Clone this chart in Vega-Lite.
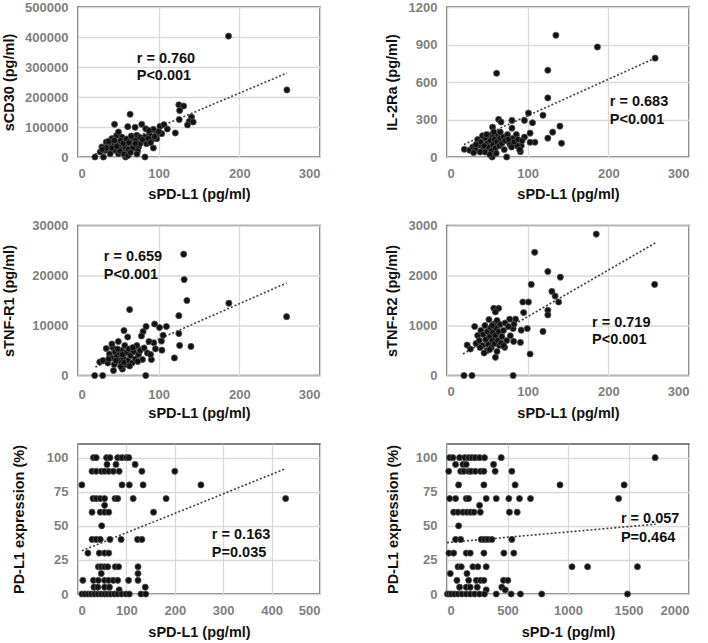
{
  "$schema": "https://vega.github.io/schema/vega-lite/v6.json",
  "padding": {"left": 0, "top": 0, "right": 0, "bottom": 0},
  "background": "white",
  "columns": 2,
  "bounds": "flush",
  "spacing": {"row": 68.5, "column": 127},
  "config": {
    "view": {"stroke": "#595959", "strokeWidth": 1.5},
    "axis": {"grid": true, "gridColor": "#d9d9d9", "gridWidth": 1.3, "domain": false, "ticks": false,
      "labelFont": "Liberation Sans", "labelFontSize": 13, "labelFontWeight": "bold", "labelColor": "#808080",
      "titleFont": "Liberation Sans", "titleFontSize": 14.5, "titleFontWeight": "bold", "titleColor": "#111111"},
    "axisX": {"labelPadding": 10, "minExtent": 23, "maxExtent": 23, "titlePadding": 7.5},
    "axisY": {"labelPadding": 10, "titlePadding": 0}
  },
  "datasets": {
    "p1": [
      {"k":"p","x":186.6,"y":403000},{"k":"p","x":259,"y":223600},{"k":"p","x":125,"y":174000},{"k":"p","x":131,"y":170000},{"k":"p","x":126,"y":155000},{"k":"p","x":125.5,"y":125000},{"k":"p","x":140.7,"y":133000},{"k":"p","x":138,"y":119000},{"k":"p","x":142.8,"y":116700},{"k":"p","x":135.8,"y":107000},{"k":"p","x":120.6,"y":80000},{"k":"p","x":64.6,"y":142500},{"k":"p","x":45.3,"y":109000},{"k":"p","x":61.7,"y":101000},{"k":"p","x":70.8,"y":99000},{"k":"p","x":79,"y":109000},{"k":"p","x":84,"y":94000},{"k":"p","x":93.4,"y":92000},{"k":"p","x":101.6,"y":102000},{"k":"p","x":106.6,"y":107700},{"k":"p","x":110.7,"y":93300},{"k":"p","x":97.5,"y":75600},{"k":"p","x":88.5,"y":77800},{"k":"p","x":103.7,"y":77800},{"k":"p","x":97.5,"y":61000},{"k":"p","x":91,"y":57700},{"k":"p","x":83,"y":66700},{"k":"p","x":79,"y":53300},{"k":"p","x":85,"y":44300},{"k":"p","x":93.4,"y":30000},{"k":"p","x":83,"y":0},{"k":"p","x":75,"y":33300},{"k":"p","x":72.8,"y":72300},{"k":"p","x":70.8,"y":55700},{"k":"p","x":64.6,"y":61000},{"k":"p","x":58.4,"y":50000},{"k":"p","x":54.3,"y":66700},{"k":"p","x":48,"y":72300},{"k":"p","x":50.2,"y":83300},{"k":"p","x":42,"y":61000},{"k":"p","x":44,"y":44300},{"k":"p","x":37.9,"y":38900},{"k":"p","x":35,"y":50000},{"k":"p","x":29.6,"y":33300},{"k":"p","x":27.5,"y":16700},{"k":"p","x":21,"y":0},{"k":"p","x":31.6,"y":0},{"k":"p","x":59,"y":0},{"k":"p","x":33.7,"y":22300},{"k":"p","x":39.9,"y":27800},{"k":"p","x":46,"y":22300},{"k":"p","x":52.2,"y":38900},{"k":"p","x":56.4,"y":27800},{"k":"p","x":60.5,"y":16700},{"k":"p","x":66.7,"y":38900},{"k":"p","x":58.4,"y":33300},{"k":"p","x":50.2,"y":11100},{"k":"p","x":39.9,"y":11100},{"k":"p","x":62.6,"y":25600},{"k":"p","x":76.9,"y":44300},{"k":"p","x":38,"y":52000},{"k":"p","x":42,"y":30000},{"k":"p","x":47,"y":50000},{"k":"p","x":53,"y":55000},{"k":"p","x":56,"y":45000},{"k":"p","x":60,"y":60000},{"k":"p","x":63,"y":48000},{"k":"p","x":66,"y":70000},{"k":"p","x":68,"y":30000},{"k":"p","x":71,"y":45000},{"k":"p","x":74,"y":20000},{"k":"p","x":77,"y":65000},{"k":"p","x":80,"y":58000},{"k":"p","x":87,"y":62000},{"k":"p","x":90,"y":48000},{"k":"p","x":95,"y":68000},{"k":"p","x":100,"y":85000},{"k":"p","x":52,"y":20000},{"k":"p","x":57,"y":10000},{"k":"p","x":62,"y":5000},{"k":"p","x":45,"y":55000},{"k":"p","x":35,"y":30000},{"k":"p","x":30,"y":25000},{"k":"p","x":48,"y":35000},{"k":"p","x":65,"y":15000},{"k":"p","x":73,"y":10000},{"k":"p","x":88,"y":88000},
      {"k":"f","x":21,"y":9000},{"k":"f","x":259,"y":280000},
      {"k":"t","x":72.8,"y":326700,"t":"r = 0.760"},{"k":"t","x":72.8,"y":270000,"t":"P<0.001"}
    ],
    "p2": [
      {"k":"p","x":135,"y":974},{"k":"p","x":186.5,"y":880},{"k":"p","x":258,"y":791},{"k":"p","x":61.5,"y":670},{"k":"p","x":125,"y":694},{"k":"p","x":125,"y":473},{"k":"p","x":101,"y":352},{"k":"p","x":96,"y":293},{"k":"p","x":119,"y":334},{"k":"p","x":106,"y":274},{"k":"p","x":64,"y":301},{"k":"p","x":67,"y":280},{"k":"p","x":80.5,"y":293},{"k":"p","x":80.5,"y":231},{"k":"p","x":56.5,"y":239},{"k":"p","x":140,"y":247},{"k":"p","x":131,"y":199},{"k":"p","x":103,"y":191},{"k":"p","x":125,"y":151},{"k":"p","x":142,"y":110},{"k":"p","x":109,"y":118},{"k":"p","x":103,"y":118},{"k":"p","x":96,"y":159},{"k":"p","x":92,"y":91},{"k":"p","x":91,"y":43},{"k":"p","x":85,"y":145},{"k":"p","x":87,"y":91},{"k":"p","x":74,"y":0},{"k":"p","x":56,"y":0},{"k":"p","x":21.5,"y":62},
      {"k":"p","x":28,"y":55},{"k":"p","x":32,"y":80},{"k":"p","x":35,"y":60},{"k":"p","x":38,"y":140},{"k":"p","x":40,"y":95},{"k":"p","x":42,"y":120},{"k":"p","x":44,"y":170},{"k":"p","x":45,"y":60},{"k":"p","x":47,"y":40},{"k":"p","x":48,"y":150},{"k":"p","x":50,"y":110},{"k":"p","x":51,"y":80},{"k":"p","x":52,"y":175},{"k":"p","x":54,"y":130},{"k":"p","x":55,"y":50},{"k":"p","x":57,"y":100},{"k":"p","x":58,"y":170},{"k":"p","x":59,"y":140},{"k":"p","x":60,"y":70},{"k":"p","x":61,"y":30},{"k":"p","x":62,"y":120},{"k":"p","x":63,"y":180},{"k":"p","x":65,"y":90},{"k":"p","x":66,"y":150},{"k":"p","x":68,"y":110},{"k":"p","x":70,"y":160},{"k":"p","x":72,"y":130},{"k":"p","x":75,"y":180},{"k":"p","x":78,"y":100},{"k":"p","x":82,"y":150},{"k":"p","x":83,"y":120},{"k":"p","x":86,"y":180},{"k":"p","x":88,"y":140},{"k":"p","x":90,"y":60},{"k":"p","x":93,"y":130},{"k":"p","x":46,"y":90},{"k":"p","x":53,"y":20},{"k":"p","x":36,"y":100},{"k":"p","x":41,"y":40},{"k":"p","x":58,"y":200},{"k":"p","x":66,"y":200},{"k":"p","x":71,"y":60},{"k":"p","x":76,"y":140},{"k":"p","x":80,"y":80},{"k":"p","x":49,"y":180},{"k":"p","x":33,"y":35},
      {"k":"f","x":21,"y":100},{"k":"f","x":258,"y":791},
      {"k":"t","x":201.8,"y":441,"t":"r = 0.683"},{"k":"t","x":201.8,"y":293,"t":"P<0.001"}
    ],
    "p3": [
      {"k":"p","x":131,"y":24260},{"k":"p","x":131.6,"y":19190},{"k":"p","x":135,"y":15000},{"k":"p","x":187,"y":14460},{"k":"p","x":258.6,"y":11760},{"k":"p","x":64,"y":13180},{"k":"p","x":125,"y":11960},{"k":"p","x":125,"y":8380},{"k":"p","x":126,"y":6010},{"k":"p","x":140,"y":5810},{"k":"p","x":119.5,"y":3510},{"k":"p","x":109.6,"y":9800},{"k":"p","x":95,"y":10300},{"k":"p","x":101,"y":9600},{"k":"p","x":84.4,"y":9800},{"k":"p","x":80.7,"y":8780},{"k":"p","x":78.6,"y":7900},{"k":"p","x":61.6,"y":7700},{"k":"p","x":57,"y":8990},{"k":"p","x":105.5,"y":8040},{"k":"p","x":103.4,"y":6890},{"k":"p","x":104,"y":5070},{"k":"p","x":94,"y":6550},{"k":"p","x":96,"y":5340},{"k":"p","x":91,"y":3180},{"k":"p","x":84,"y":0},{"k":"p","x":30.6,"y":0},{"k":"p","x":20.7,"y":0},{"k":"p","x":55,"y":1280},{"k":"p","x":44,"y":1000},
      {"k":"p","x":27,"y":2700},{"k":"p","x":31,"y":3000},{"k":"p","x":35,"y":5400},{"k":"p","x":37,"y":2500},{"k":"p","x":39,"y":4300},{"k":"p","x":41,"y":3500},{"k":"p","x":43,"y":5600},{"k":"p","x":45,"y":2200},{"k":"p","x":46,"y":4700},{"k":"p","x":48,"y":3800},{"k":"p","x":50,"y":6800},{"k":"p","x":51,"y":2900},{"k":"p","x":52,"y":4400},{"k":"p","x":54,"y":5000},{"k":"p","x":56,"y":3600},{"k":"p","x":58,"y":6000},{"k":"p","x":59,"y":2200},{"k":"p","x":60,"y":4600},{"k":"p","x":62,"y":3000},{"k":"p","x":63,"y":5300},{"k":"p","x":65,"y":4000},{"k":"p","x":67,"y":2500},{"k":"p","x":69,"y":4800},{"k":"p","x":71,"y":3300},{"k":"p","x":73,"y":6000},{"k":"p","x":75,"y":4200},{"k":"p","x":77,"y":5000},{"k":"p","x":80,"y":3200},{"k":"p","x":82,"y":5500},{"k":"p","x":86,"y":4500},{"k":"p","x":88,"y":6800},{"k":"p","x":90,"y":4200},{"k":"p","x":47,"y":3000},{"k":"p","x":53,"y":1800},{"k":"p","x":57,"y":2600},{"k":"p","x":64,"y":1900},{"k":"p","x":68,"y":5600},{"k":"p","x":74,"y":2800},{"k":"p","x":38,"y":3300},{"k":"p","x":42,"y":6300},{"k":"p","x":49,"y":5300},{"k":"p","x":55,"y":4200},
      {"k":"f","x":21.5,"y":1700},{"k":"f","x":258.6,"y":18500},
      {"k":"t","x":31.9,"y":23650,"t":"r = 0.659"},{"k":"t","x":31.9,"y":20070,"t":"P<0.001"}
    ],
    "p4": [
      {"k":"p","x":185,"y":2828},{"k":"p","x":108.7,"y":2464},{"k":"p","x":257.4,"y":1821},{"k":"p","x":104.5,"y":1821},{"k":"p","x":125,"y":2080},{"k":"p","x":140.5,"y":1967},{"k":"p","x":130,"y":1682},{"k":"p","x":134,"y":1589},{"k":"p","x":138.4,"y":1470},{"k":"p","x":125,"y":1305},{"k":"p","x":125,"y":1212},{"k":"p","x":119,"y":881},{"k":"p","x":103,"y":430},{"k":"p","x":94,"y":1470},{"k":"p","x":101,"y":1470},{"k":"p","x":95,"y":1258},{"k":"p","x":99.6,"y":940},{"k":"p","x":92,"y":907},{"k":"p","x":85,"y":1126},{"k":"p","x":91,"y":662},{"k":"p","x":82.6,"y":682},{"k":"p","x":78.5,"y":795},{"k":"p","x":82,"y":940},{"k":"p","x":77.7,"y":1126},{"k":"p","x":83,"y":1026},{"k":"p","x":71.5,"y":563},{"k":"p","x":58,"y":1344},{"k":"p","x":64,"y":1344},{"k":"p","x":60,"y":1272},{"k":"p","x":60,"y":364},{"k":"p","x":49.6,"y":497},{"k":"p","x":34.3,"y":980},{"k":"p","x":25,"y":609},{"k":"p","x":29,"y":530},{"k":"p","x":21,"y":0},{"k":"p","x":31,"y":0},{"k":"p","x":82,"y":0},
      {"k":"p","x":36,"y":640},{"k":"p","x":38,"y":800},{"k":"p","x":40,"y":700},{"k":"p","x":42,"y":900},{"k":"p","x":44,"y":600},{"k":"p","x":45,"y":820},{"k":"p","x":47,"y":1000},{"k":"p","x":48,"y":720},{"k":"p","x":50,"y":880},{"k":"p","x":51,"y":620},{"k":"p","x":52,"y":1120},{"k":"p","x":53,"y":780},{"k":"p","x":54,"y":950},{"k":"p","x":55,"y":560},{"k":"p","x":56,"y":700},{"k":"p","x":57,"y":860},{"k":"p","x":58,"y":1030},{"k":"p","x":59,"y":640},{"k":"p","x":60,"y":800},{"k":"p","x":61,"y":950},{"k":"p","x":62,"y":1100},{"k":"p","x":63,"y":700},{"k":"p","x":64,"y":880},{"k":"p","x":65,"y":600},{"k":"p","x":66,"y":1020},{"k":"p","x":68,"y":780},{"k":"p","x":70,"y":900},{"k":"p","x":72,"y":1050},{"k":"p","x":74,"y":700},{"k":"p","x":76,"y":980},{"k":"p","x":46,"y":450},{"k":"p","x":53,"y":520},{"k":"p","x":62,"y":480},{"k":"p","x":67,"y":650},{"k":"p","x":41,"y":560},{"k":"p","x":56,"y":1000},{"k":"p","x":70,"y":600},
      {"k":"f","x":19.8,"y":430},{"k":"f","x":259.5,"y":2662},
      {"k":"t","x":179.8,"y":1060,"t":"r = 0.719"},{"k":"t","x":179.8,"y":709,"t":"P<0.001"}
    ],
    "p5": [
      {"k":"p","x":32,"y":100},{"k":"p","x":37.6,"y":100},{"k":"p","x":59,"y":100},{"k":"p","x":66,"y":100},{"k":"p","x":82,"y":100},{"k":"p","x":91,"y":100},{"k":"p","x":100,"y":100},{"k":"p","x":105,"y":100},
      {"k":"p","x":60,"y":95},{"k":"p","x":78.5,"y":95},{"k":"p","x":118,"y":95},
      {"k":"p","x":29,"y":90},{"k":"p","x":37.6,"y":90},{"k":"p","x":48,"y":90},{"k":"p","x":55,"y":90},{"k":"p","x":63.5,"y":90},{"k":"p","x":73,"y":90},{"k":"p","x":85,"y":90},{"k":"p","x":132,"y":90},{"k":"p","x":200,"y":90},
      {"k":"p","x":8,"y":80},{"k":"p","x":91,"y":80},{"k":"p","x":106,"y":80},{"k":"p","x":134.5,"y":80},{"k":"p","x":254,"y":80},
      {"k":"p","x":31,"y":70},{"k":"p","x":37.6,"y":70},{"k":"p","x":46,"y":70},{"k":"p","x":55,"y":70},{"k":"p","x":76.5,"y":70},{"k":"p","x":82,"y":70},{"k":"p","x":114,"y":70},{"k":"p","x":182,"y":70},{"k":"p","x":429,"y":70},
      {"k":"p","x":55,"y":65},
      {"k":"p","x":29,"y":60},{"k":"p","x":46,"y":60},{"k":"p","x":55,"y":60},{"k":"p","x":63.5,"y":60},{"k":"p","x":156,"y":60},
      {"k":"p","x":49,"y":50},
      {"k":"p","x":29,"y":40},{"k":"p","x":37.6,"y":40},{"k":"p","x":46,"y":40},{"k":"p","x":66,"y":40},{"k":"p","x":89,"y":40},{"k":"p","x":123,"y":40},{"k":"p","x":132,"y":40},
      {"k":"p","x":20.5,"y":30},{"k":"p","x":44,"y":30},{"k":"p","x":55,"y":30},{"k":"p","x":63.5,"y":30},
      {"k":"p","x":42,"y":20},{"k":"p","x":48,"y":20},{"k":"p","x":55,"y":20},{"k":"p","x":61.5,"y":20},{"k":"p","x":77,"y":20},{"k":"p","x":84,"y":20},{"k":"p","x":124,"y":20},
      {"k":"p","x":48,"y":15},{"k":"p","x":124,"y":15},
      {"k":"p","x":10,"y":10},{"k":"p","x":32,"y":10},{"k":"p","x":42,"y":10},{"k":"p","x":55,"y":10},{"k":"p","x":63.5,"y":10},{"k":"p","x":73,"y":10},{"k":"p","x":82,"y":10},{"k":"p","x":104.5,"y":10},{"k":"p","x":124,"y":10},
      {"k":"p","x":33,"y":5},{"k":"p","x":41,"y":5},{"k":"p","x":55,"y":5},{"k":"p","x":65,"y":5},{"k":"p","x":139,"y":5},
      {"k":"p","x":85,"y":3},
      {"k":"p","x":8,"y":0},{"k":"p","x":14,"y":0},{"k":"p","x":20.5,"y":0},{"k":"p","x":27,"y":0},{"k":"p","x":34,"y":0},{"k":"p","x":41,"y":0},{"k":"p","x":48,"y":0},{"k":"p","x":55,"y":0},{"k":"p","x":61.5,"y":0},{"k":"p","x":68,"y":0},{"k":"p","x":75,"y":0},{"k":"p","x":82,"y":0},{"k":"p","x":90,"y":0},{"k":"p","x":99,"y":0},{"k":"p","x":106,"y":0},{"k":"p","x":130,"y":0},{"k":"p","x":140,"y":0},
      {"k":"f","x":8,"y":31.7},{"k":"f","x":429,"y":91.9},
      {"k":"t","x":276.6,"y":43,"t":"r = 0.163"},{"k":"t","x":276.6,"y":30,"t":"P=0.035"}
    ],
    "p6": [
      {"k":"p","x":22,"y":100},{"k":"p","x":49,"y":100},{"k":"p","x":104,"y":100},{"k":"p","x":146,"y":100},{"k":"p","x":179,"y":100},{"k":"p","x":206,"y":100},{"k":"p","x":234,"y":100},{"k":"p","x":269,"y":100},{"k":"p","x":310,"y":100},{"k":"p","x":448,"y":100},{"k":"p","x":1720,"y":100},
      {"k":"p","x":71,"y":95},{"k":"p","x":132,"y":95},{"k":"p","x":159,"y":95},{"k":"p","x":385,"y":95},
      {"k":"p","x":14,"y":90},{"k":"p","x":113,"y":90},{"k":"p","x":140,"y":90},{"k":"p","x":179,"y":90},{"k":"p","x":200,"y":90},{"k":"p","x":234,"y":90},{"k":"p","x":277,"y":90},{"k":"p","x":305,"y":90},{"k":"p","x":398,"y":90},{"k":"p","x":536,"y":90},
      {"k":"p","x":96,"y":80},{"k":"p","x":305,"y":80},{"k":"p","x":563,"y":80},{"k":"p","x":934,"y":80},{"k":"p","x":1464,"y":80},
      {"k":"p","x":22,"y":70},{"k":"p","x":71,"y":70},{"k":"p","x":159,"y":70},{"k":"p","x":179,"y":70},{"k":"p","x":324,"y":70},{"k":"p","x":407,"y":70},{"k":"p","x":511,"y":70},{"k":"p","x":599,"y":70},{"k":"p","x":690,"y":70},{"k":"p","x":1418,"y":70},
      {"k":"p","x":269,"y":65},
      {"k":"p","x":55,"y":60},{"k":"p","x":91,"y":60},{"k":"p","x":132,"y":60},{"k":"p","x":165,"y":60},{"k":"p","x":195,"y":60},{"k":"p","x":223,"y":60},{"k":"p","x":275,"y":60},{"k":"p","x":516,"y":60},{"k":"p","x":580,"y":60},
      {"k":"p","x":96,"y":50},
      {"k":"p","x":71,"y":40},{"k":"p","x":113,"y":40},{"k":"p","x":283,"y":40},{"k":"p","x":310,"y":40},{"k":"p","x":338,"y":40},{"k":"p","x":371,"y":40},{"k":"p","x":536,"y":40},
      {"k":"p","x":16,"y":30},{"k":"p","x":55,"y":30},{"k":"p","x":159,"y":30},{"k":"p","x":192,"y":30},{"k":"p","x":305,"y":30},{"k":"p","x":470,"y":30},{"k":"p","x":552,"y":30},
      {"k":"p","x":91,"y":20},{"k":"p","x":118,"y":20},{"k":"p","x":214,"y":20},{"k":"p","x":255,"y":20},{"k":"p","x":324,"y":20},{"k":"p","x":1033,"y":20},{"k":"p","x":1162,"y":20},{"k":"p","x":1574,"y":20},
      {"k":"p","x":27,"y":15},{"k":"p","x":165,"y":15},
      {"k":"p","x":82,"y":10},{"k":"p","x":179,"y":10},{"k":"p","x":242,"y":10},{"k":"p","x":277,"y":10},{"k":"p","x":305,"y":10},{"k":"p","x":467,"y":10},{"k":"p","x":503,"y":10},
      {"k":"p","x":104,"y":5},{"k":"p","x":159,"y":5},{"k":"p","x":192,"y":5},{"k":"p","x":250,"y":5},{"k":"p","x":453,"y":5},
      {"k":"p","x":324,"y":3},{"k":"p","x":481,"y":3},
      {"k":"p","x":3,"y":0},{"k":"p","x":18,"y":0},{"k":"p","x":36,"y":0},{"k":"p","x":63,"y":0},{"k":"p","x":91,"y":0},{"k":"p","x":124,"y":0},{"k":"p","x":159,"y":0},{"k":"p","x":192,"y":0},{"k":"p","x":228,"y":0},{"k":"p","x":269,"y":0},{"k":"p","x":310,"y":0},{"k":"p","x":407,"y":0},{"k":"p","x":530,"y":0},{"k":"p","x":607,"y":0},{"k":"p","x":783,"y":0},{"k":"p","x":1492,"y":0},
      {"k":"f","x":0,"y":37.7},{"k":"f","x":1725,"y":51.2},
      {"k":"t","x":1437,"y":54.7,"t":"r = 0.057"},{"k":"t","x":1437,"y":41.4,"t":"P=0.464"}
    ]
  },
  "concat": [
    {
      "width": 242, "height": 150,
      "data": {"name": "p1"},
      "encoding": {
        "x": {"field": "x", "type": "quantitative", "scale": {"domain": [0, 300], "nice": false}, "axis": {"title": "sPD-L1 (pg/ml)", "values": [0, 100, 200, 300]}},
        "y": {"field": "y", "type": "quantitative", "scale": {"domain": [0, 500000], "nice": false}, "axis": {"title": "sCD30 (pg/ml)", "values": [0, 100000, 200000, 300000, 400000, 500000], "format": "d", "minExtent": 61.75, "maxExtent": 61.75}}
      },
      "layer": [
        {"transform": [{"filter": "datum.k == 'f'"}], "mark": {"type": "line", "strokeDash": [2, 2], "color": "#404040", "strokeWidth": 1.6, "clip": true}, "encoding": {}},
        {"transform": [{"filter": "datum.k == 'p'"}], "mark": {"type": "circle", "size": 38, "color": "#111111", "opacity": 1, "stroke": "#555555", "strokeWidth": 0.8}},
        {"transform": [{"filter": "datum.k == 't'"}], "mark": {"type": "text", "align": "left", "baseline": "middle", "font": "Liberation Sans", "fontSize": 14.5, "fontWeight": "bold", "color": "#111111"}, "encoding": {"text": {"field": "t"}}}
      ]
    },
    {
      "width": 242, "height": 150,
      "data": {"name": "p2"},
      "encoding": {
        "x": {"field": "x", "type": "quantitative", "scale": {"domain": [0, 300], "nice": false}, "axis": {"title": "sPD-L1 (pg/ml)", "values": [0, 100, 200, 300]}},
        "y": {"field": "y", "type": "quantitative", "scale": {"domain": [0, 1200], "nice": false}, "axis": {"title": "IL-2Ra (pg/ml)", "values": [0, 300, 600, 900, 1200], "format": "d", "minExtent": 48, "maxExtent": 48}}
      },
      "layer": [
        {"transform": [{"filter": "datum.k == 'f'"}], "mark": {"type": "line", "strokeDash": [2, 2], "color": "#404040", "strokeWidth": 1.6, "clip": true}, "encoding": {}},
        {"transform": [{"filter": "datum.k == 'p'"}], "mark": {"type": "circle", "size": 38, "color": "#111111", "opacity": 1, "stroke": "#555555", "strokeWidth": 0.8}},
        {"transform": [{"filter": "datum.k == 't'"}], "mark": {"type": "text", "align": "left", "baseline": "middle", "font": "Liberation Sans", "fontSize": 14.5, "fontWeight": "bold", "color": "#111111"}, "encoding": {"text": {"field": "t"}}}
      ]
    },
    {
      "width": 242, "height": 150,
      "data": {"name": "p3"},
      "encoding": {
        "x": {"field": "x", "type": "quantitative", "scale": {"domain": [0, 300], "nice": false}, "axis": {"title": "sPD-L1 (pg/ml)", "values": [0, 100, 200, 300], "labelPadding": 13}},
        "y": {"field": "y", "type": "quantitative", "scale": {"domain": [0, 30000], "nice": false}, "axis": {"title": "sTNF-R1 (pg/ml)", "values": [0, 10000, 20000, 30000], "format": "d", "minExtent": 61.25, "maxExtent": 61.25}}
      },
      "layer": [
        {"transform": [{"filter": "datum.k == 'f'"}], "mark": {"type": "line", "strokeDash": [2, 2], "color": "#404040", "strokeWidth": 1.6, "clip": true}, "encoding": {}},
        {"transform": [{"filter": "datum.k == 'p'"}], "mark": {"type": "circle", "size": 38, "color": "#111111", "opacity": 1, "stroke": "#555555", "strokeWidth": 0.8}},
        {"transform": [{"filter": "datum.k == 't'"}], "mark": {"type": "text", "align": "left", "baseline": "middle", "font": "Liberation Sans", "fontSize": 14.5, "fontWeight": "bold", "color": "#111111"}, "encoding": {"text": {"field": "t"}}}
      ]
    },
    {
      "width": 242, "height": 150,
      "data": {"name": "p4"},
      "encoding": {
        "x": {"field": "x", "type": "quantitative", "scale": {"domain": [0, 300], "nice": false}, "axis": {"title": "sPD-L1 (pg/ml)", "values": [0, 100, 200, 300]}},
        "y": {"field": "y", "type": "quantitative", "scale": {"domain": [0, 3000], "nice": false}, "axis": {"title": "sTNF-R2 (pg/ml)", "values": [0, 1000, 2000, 3000], "format": "d", "minExtent": 48, "maxExtent": 48}}
      },
      "layer": [
        {"transform": [{"filter": "datum.k == 'f'"}], "mark": {"type": "line", "strokeDash": [2, 2], "color": "#404040", "strokeWidth": 1.6, "clip": true}, "encoding": {}},
        {"transform": [{"filter": "datum.k == 'p'"}], "mark": {"type": "circle", "size": 38, "color": "#111111", "opacity": 1, "stroke": "#555555", "strokeWidth": 0.8}},
        {"transform": [{"filter": "datum.k == 't'"}], "mark": {"type": "text", "align": "left", "baseline": "middle", "font": "Liberation Sans", "fontSize": 14.5, "fontWeight": "bold", "color": "#111111"}, "encoding": {"text": {"field": "t"}}}
      ]
    },
    {
      "width": 242, "height": 150,
      "data": {"name": "p5"},
      "encoding": {
        "x": {"field": "x", "type": "quantitative", "scale": {"domain": [0, 500], "nice": false}, "axis": {"title": "sPD-L1 (pg/ml)", "values": [0, 100, 200, 300, 400, 500], "titlePadding": 8.5}},
        "y": {"field": "y", "type": "quantitative", "scale": {"domain": [0, 110], "nice": false}, "axis": {"title": "PD-L1 expression (%)", "values": [0, 25, 50, 75, 100], "minExtent": 51.75, "maxExtent": 51.75}}
      },
      "layer": [
        {"transform": [{"filter": "datum.k == 'f'"}], "mark": {"type": "line", "strokeDash": [2, 2], "color": "#404040", "strokeWidth": 1.6, "clip": true}, "encoding": {}},
        {"transform": [{"filter": "datum.k == 'p'"}], "mark": {"type": "circle", "size": 38, "color": "#111111", "opacity": 1, "stroke": "#555555", "strokeWidth": 0.8}},
        {"transform": [{"filter": "datum.k == 't'"}], "mark": {"type": "text", "align": "left", "baseline": "middle", "font": "Liberation Sans", "fontSize": 14.5, "fontWeight": "bold", "color": "#111111"}, "encoding": {"text": {"field": "t"}}}
      ]
    },
    {
      "width": 242, "height": 150,
      "data": {"name": "p6"},
      "encoding": {
        "x": {"field": "x", "type": "quantitative", "scale": {"domain": [0, 2000], "nice": false}, "axis": {"title": "sPD-1 (pg/ml)", "values": [0, 500, 1000, 1500, 2000], "format": "d", "titlePadding": 8.5}},
        "y": {"field": "y", "type": "quantitative", "scale": {"domain": [0, 110], "nice": false}, "axis": {"title": "PD-L1 expression (%)", "values": [0, 25, 50, 75, 100], "minExtent": 46.75, "maxExtent": 46.75}}
      },
      "layer": [
        {"transform": [{"filter": "datum.k == 'f'"}], "mark": {"type": "line", "strokeDash": [2, 2], "color": "#404040", "strokeWidth": 1.6, "clip": true}, "encoding": {}},
        {"transform": [{"filter": "datum.k == 'p'"}], "mark": {"type": "circle", "size": 38, "color": "#111111", "opacity": 1, "stroke": "#555555", "strokeWidth": 0.8}},
        {"transform": [{"filter": "datum.k == 't'"}], "mark": {"type": "text", "align": "left", "baseline": "middle", "font": "Liberation Sans", "fontSize": 14.5, "fontWeight": "bold", "color": "#111111"}, "encoding": {"text": {"field": "t"}}}
      ]
    }
  ]
}
